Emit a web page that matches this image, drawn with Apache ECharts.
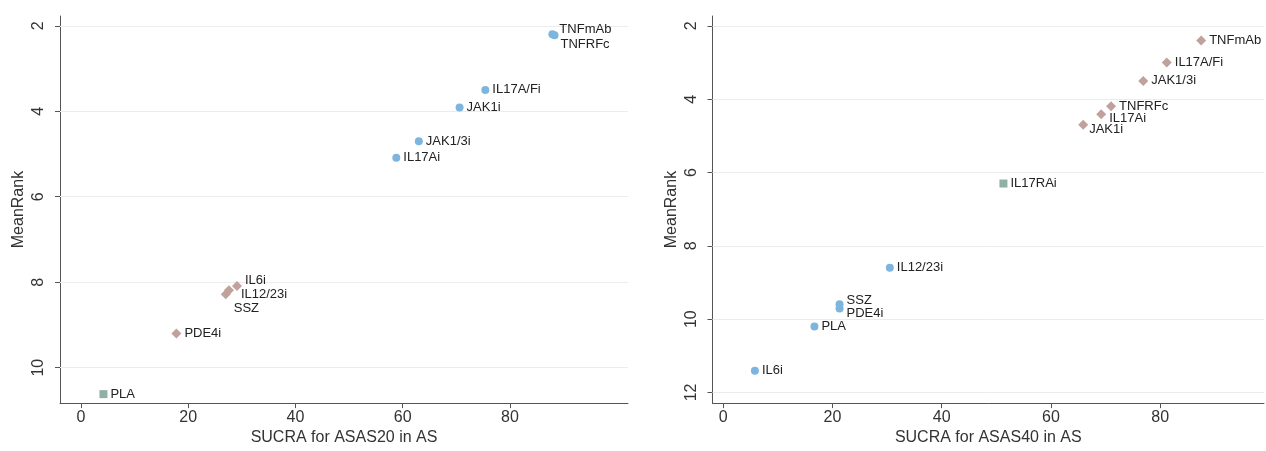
<!DOCTYPE html>
<html>
<head>
<meta charset="utf-8">
<script src="https://cdn.jsdelivr.net/npm/echarts@6/dist/echarts.min.js"></script>
<style>
html,body{margin:0;padding:0;background:#fff;}
#chart{width:1266px;height:451px;}
</style>
</head>
<body>
<div id="chart"></div>
<script>
// ---- Data: ASAS20 panel ----
const names20   = ['TNFmAb','TNFRFc','IL17A/Fi','JAK1i','JAK1/3i','IL17Ai','IL6i','IL12/23i','SSZ','PDE4i','PLA'];
const sucra20   = [87.9, 88.3, 75.4, 70.6, 63.0, 58.8, 29.1, 27.6, 27.0, 17.8, 4.2];
const rank20    = [2.20, 2.22, 3.50, 3.91, 4.70, 5.09, 8.09, 8.19, 8.28, 9.20, 10.62];
const cluster20 = [1, 1, 1, 1, 1, 1, 2, 2, 2, 2, 3];

// ---- Data: ASAS40 panel ----
const names40   = ['TNFmAb','IL17A/Fi','JAK1/3i','TNFRFc','IL17Ai','JAK1i','IL17RAi','IL12/23i','SSZ','PDE4i','PLA','IL6i'];
const sucra40   = [87.5, 81.2, 76.9, 71.0, 69.2, 65.9, 51.3, 30.5, 21.3, 21.3, 16.7, 5.8];
const rank40    = [2.40, 3.00, 3.50, 4.19, 4.41, 4.70, 6.30, 8.60, 9.59, 9.71, 10.20, 11.41];
const cluster40 = [2, 2, 2, 2, 2, 2, 3, 1, 1, 1, 1, 1];

// ---- Tick labels ----
const xTicks      = [0, 20, 40, 60, 80];
const yTicks20    = [2, 4, 6, 8, 10];
const yTicks40    = [2, 4, 6, 8, 10, 12];
const xTitle20 = 'SUCRA for ASAS20 in AS';
const xTitle40 = 'SUCRA for ASAS40 in AS';
const yTitle   = 'MeanRank';

// ---- Styles (kept separate from data) ----
const groupStyle = {
  1: {symbol: 'circle',  size: 8,  color: '#7db5df'},
  2: {symbol: 'diamond', size: 10, color: '#c1a19c'},
  3: {symbol: 'rect',    size: 8,  color: '#8fb1a4'}
};
const labelOffsets20 = {
  'TNFmAb': [0, -5], 'TNFRFc': [-1, 9], 'IL6i': [0, -6], 'IL12/23i': [4, 4], 'SSZ': [0, 14]
};
const labelOffsets40 = {
  'IL17Ai': [0, 4], 'JAK1i': [-2, 5], 'SSZ': [0, -4], 'PDE4i': [0, 5]
};
const FONT = '"Liberation Sans", Arial, sans-serif';
const AXIS_COLOR = '#555';

function makeGroupSeries(names, xs, ys, clusters, offsets, gridIdx, yTicks) {
  const out = [];
  [1, 2, 3].forEach(g => {
    const st = groupStyle[g];
    const data = [];
    names.forEach((n, i) => {
      if (clusters[i] !== g) return;
      const item = {name: n, value: [xs[i], ys[i]]};
      if (offsets[n]) item.label = {offset: offsets[n]};
      data.push(item);
    });
    if (!data.length) return;
    out.push({
      type: 'scatter',
      xAxisIndex: gridIdx, yAxisIndex: gridIdx,
      symbol: st.symbol, symbolSize: st.size,
      itemStyle: {color: st.color, opacity: 1},
      z: 3,
      label: {
        show: true, position: 'right', distance: 3,
        formatter: p => p.name,
        fontFamily: FONT, fontSize: 13, color: '#222'
      },
      emphasis: {disabled: true},
      data: data
    });
  });
  // gridlines
  out.push({
    type: 'scatter', xAxisIndex: gridIdx, yAxisIndex: gridIdx, data: [], z: 1,
    markLine: {
      silent: true, symbol: 'none', z: 1, animation: false,
      label: {show: false},
      lineStyle: {color: '#ececec', type: 'solid', width: 1},
      data: yTicks.map(v => ({yAxis: v}))
    }
  });
  return out;
}

function xAxisCfg(idx, min, max, title) {
  return {
    type: 'value', gridIndex: idx, min: min, max: max,
    name: title, nameLocation: 'middle', nameGap: 26,
    nameTextStyle: {fontFamily: FONT, fontSize: 16, color: '#333'},
    axisLine: {show: true, onZero: false, lineStyle: {color: AXIS_COLOR, width: 1}},
    axisTick: {show: true, length: 5, customValues: xTicks, lineStyle: {color: AXIS_COLOR}},
    axisLabel: {customValues: xTicks, margin: 6, fontFamily: FONT, fontSize: 16, color: '#333'},
    splitLine: {show: false}
  };
}
function yAxisCfg(idx, min, max, ticks) {
  return {
    type: 'value', gridIndex: idx, min: min, max: max, inverse: true,
    name: yTitle, nameLocation: 'middle', nameGap: 33, nameRotate: 90,
    nameTextStyle: {fontFamily: FONT, fontSize: 16, color: '#333'},
    axisLine: {show: true, onZero: false, lineStyle: {color: AXIS_COLOR, width: 1}},
    axisTick: {show: true, length: 5, customValues: ticks, lineStyle: {color: AXIS_COLOR}},
    axisLabel: {customValues: ticks, rotate: 90, margin: 13, fontFamily: FONT, fontSize: 16, color: '#333'},
    splitLine: {show: false}
  };
}

const chart = echarts.init(document.getElementById('chart'), null, {renderer: 'canvas'});
chart.setOption({
  animation: false,
  backgroundColor: '#fff',
  grid: [
    {left: 60, top: 16, width: 568, height: 392, containLabel: false},
    {left: 712.5, top: 16, width: 551.5, height: 392, containLabel: false}
  ],
  xAxis: [xAxisCfg(0, -3.9, 102, xTitle20), xAxisCfg(1, -1.96, 99, xTitle40)],
  yAxis: [yAxisCfg(0, 1.77, 10.83, yTicks20), yAxisCfg(1, 1.73, 12.29, yTicks40)],
  series: [
    ...makeGroupSeries(names20, sucra20, rank20, cluster20, labelOffsets20, 0, yTicks20),
    ...makeGroupSeries(names40, sucra40, rank40, cluster40, labelOffsets40, 1, yTicks40)
  ]
});
</script>
</body>
</html>
